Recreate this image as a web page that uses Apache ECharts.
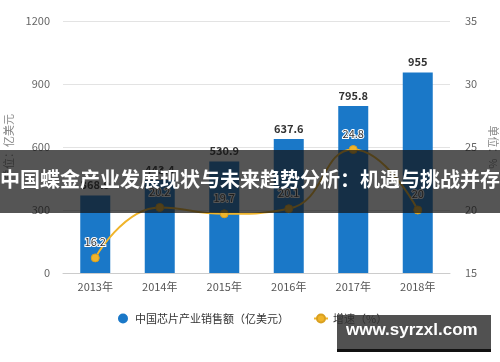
<!DOCTYPE html>
<html><head><meta charset="utf-8">
<script src="https://cdn.jsdelivr.net/npm/echarts@6/dist/echarts.min.js"></script>
<style>html,body{margin:0;padding:0;background:#fff}#c{width:500px;height:362px}</style>
</head><body><div id="c"></div>
<script>
var categories = ['2013年','2014年','2015年','2016年','2017年','2018年'];
var salesValues = [368.9, 443.4, 530.9, 637.6, 795.8, 955];
var growthValues = [16.2, 20.2, 19.7, 20.1, 24.8, 20.0];
var leftTicks = [0, 300, 600, 900, 1200];
var rightTicks = [15, 20, 25, 30, 35];
var salesName = '中国芯片产业销售额（亿美元）';
var growthName = '增速（%）';
var bannerText = '中国蝶金产业发展现状与未来趋势分析：机遇与挑战并存';
var siteText = 'www.syrzxl.com';

var chart = echarts.init(document.getElementById('c'));
var font = '"Microsoft YaHei","Noto Sans CJK SC",sans-serif';
chart.setOption({
  animation: false,
  textStyle: {fontFamily: font},
  grid: {left: 63, right: 50, top: 21, bottom: 89, containLabel: false, outerBoundsMode: 'none'},
  legend: {
    bottom: 33, left: 113, itemGap: 24, itemWidth: 14, itemHeight: 10,
    textStyle: {fontSize: 11, color: '#333', fontFamily: font},
    data: [{name: salesName, icon: 'circle'}, {name: growthName}]
  },
  xAxis: {
    type: 'category', data: categories,
    axisLine: {lineStyle: {color: '#ccc'}},
    axisTick: {alignWithLabel: true, lineStyle: {color: '#ccc'}},
    axisLabel: {color: '#555', fontSize: 11, margin: 8}
  },
  yAxis: [{
    type: 'value', min: leftTicks[0], max: leftTicks[leftTicks.length-1], interval: 300,
    name: '单位：亿美元', nameLocation: 'middle', nameGap: 45, nameRotate: 90,
    nameTextStyle: {color: '#888', fontSize: 11},
    axisLine: {show: false}, axisTick: {show: false},
    axisLabel: {color: '#666', fontSize: 11, margin: 13, formatter: function(v){ return String(v); }},
    splitLine: {lineStyle: {color: '#e3e3e3'}}
  }, {
    type: 'value', min: rightTicks[0], max: rightTicks[rightTicks.length-1], interval: 5,
    name: '单位：%', nameLocation: 'middle', nameGap: 36, nameRotate: -90,
    nameTextStyle: {color: '#888', fontSize: 11},
    axisLine: {show: false}, axisTick: {show: false},
    axisLabel: {color: '#666', fontSize: 11, margin: 15},
    splitLine: {show: false}
  }],
  series: [{
    name: salesName, type: 'bar', data: salesValues, barWidth: 30,
    itemStyle: {color: '#1a78c8'},
    label: {show: true, position: 'top', color: '#333', fontWeight: 'bold', fontSize: 11, distance: 5}
  }, {
    name: growthName, type: 'line', yAxisIndex: 1, data: growthValues, smooth: true,
    symbol: 'circle', symbolSize: 8,
    lineStyle: {color: '#f0b42a', width: 2},
    itemStyle: {color: '#f0b42a', borderColor: '#d9a020', borderWidth: 1},
    label: {show: true, position: 'top', color: '#333', fontSize: 11, distance: 6,
      textBorderColor: '#fff', textBorderWidth: 2,
      formatter: function(p){ return p.value === 20 ? '20' : p.value; }}
  }],
  graphic: [{
    type: 'rect', left: 0, top: 150, z: 100,
    shape: {width: 500, height: 63},
    style: {fill: 'rgba(20,20,20,0.72)'}
  }, {
    type: 'text', left: 0, top: 169, z: 101,
    style: {text: bannerText, fill: '#fff', font: 'bold 20px "Noto Sans CJK SC", sans-serif'}
  }, {
    type: 'rect', left: 337, top: 315, z: 100,
    shape: {width: 154, height: 37},
    style: {fill: 'rgba(50,50,50,0.85)'}
  }, {
    type: 'rect', left: 337, top: 349, z: 100,
    shape: {width: 154, height: 3},
    style: {fill: '#111'}
  }, {
    type: 'text', left: 346, top: 322, z: 101,
    style: {text: siteText, fill: '#fff', font: 'bold 17px "Liberation Sans", sans-serif'}
  }]
});
</script></body></html>
